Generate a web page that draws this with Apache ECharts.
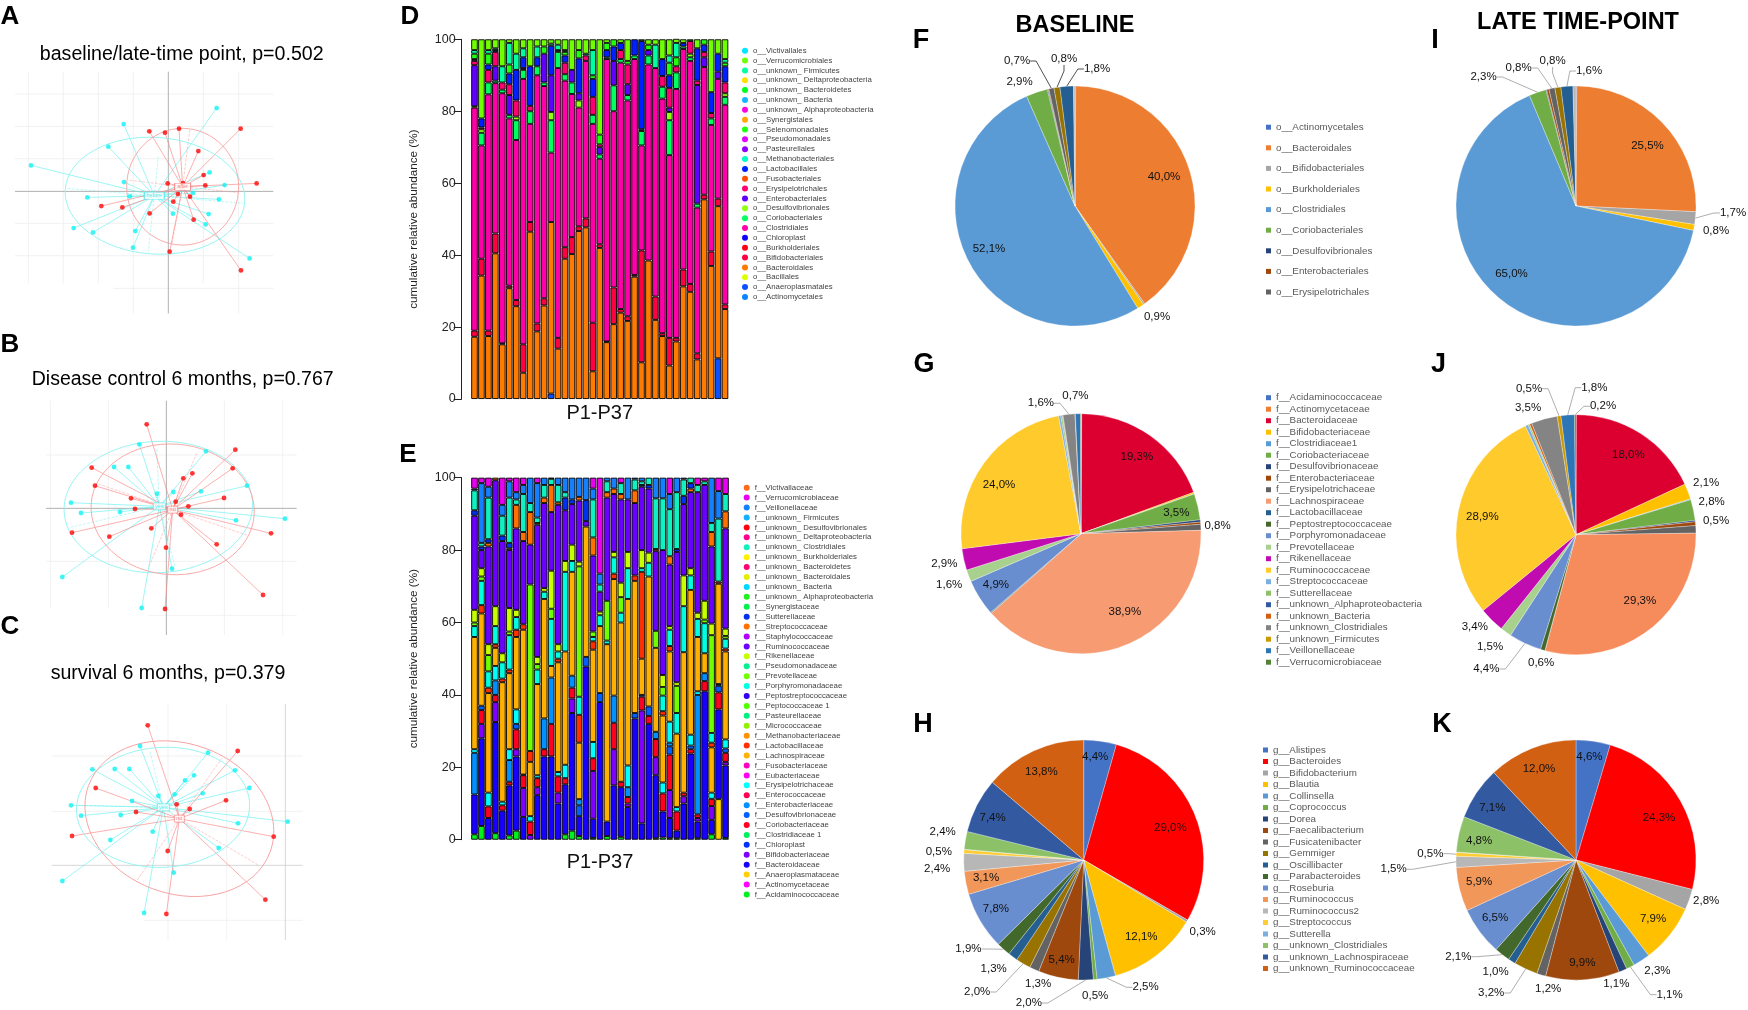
<!DOCTYPE html>
<html><head><meta charset="utf-8">
<script src="https://cdn.jsdelivr.net/npm/echarts@6/dist/echarts.min.js"></script>
<style>html,body{margin:0;padding:0;background:#fff}#c{width:1748px;height:1010px}</style></head>
<body><div id="c"></div>
<script>
/* ---------- ordination panels A, B, C (axis units) ---------- */
const aCyan=[[.145,.25],[-.134,.202],[-.18,.134],[-.412,.078],[-.133,.028],[-.243,-.018],[-.115,-.015],[-.284,-.11],[-.226,-.123],[-.099,-.119],[-.106,-.169],[.014,-.067],[.112,-.099],[.121,-.068],[.152,-.024],[.074,-.005],[.169,.019],[.124,.057],[.244,-.201]];
const aRed=[[-.057,.18],[-.01,.176],[.032,.188],[.217,.188],[.09,.121],[.106,.049],[-.002,.024],[.044,.025],[.111,.018],[.265,.024],[-.201,-.044],[-.138,-.048],[-.056,-.066],[.015,-.031],[.029,-.008],[.065,-.016],[.076,-.085],[.004,-.181],[.218,-.237]];
const aCyanCentre=[-.042,-.013], aRedCentre=[.043,.014];
const aCyanEllipse=[-.04,-.013,.27,.175,4], aRedEllipse=[.043,.014,.168,.175,0];
const aCyanAxes=[[-.305,.009],[.225,-.036],[-.03,.104],[-.06,-.181]], aRedAxes=[[-.12,.034],[.21,-.004],[.065,.189],[.01,-.161]];

const bCyan=[[-.081,.192],[.119,.171],[-.157,.124],[-.114,.124],[.242,.068],[.104,.051],[.021,.049],[-.028,.044],[-.286,.017],[-.256,-.014],[-.139,-.011],[.356,-.031],[.209,-.036],[-.312,-.206],[.017,-.181],[-.074,-.299]];
const bRed=[[-.059,.252],[.207,.176],[.199,.12],[-.224,.122],[.078,.105],[.051,.09],[-.214,.068],[-.106,.03],[.173,.031],[.028,.02],[.066,.006],[-.094,-.002],[.044,-.019],[-.283,-.073],[-.171,-.085],[-.045,-.06],[.314,-.075],[.151,-.108],[-.001,-.118],[.29,-.26],[-.004,-.302]];
const bCyanCentre=[-.021,.006], bRedCentre=[.019,-.004];
const bCyanEllipse=[-.024,.004,.283,.197,-3], bRedEllipse=[.019,-.003,.245,.196,4];
const bCyanAxes=[[-.292,-.058],[.026,-.175],[-.029,.18]], bRedAxes=[[.091,.165],[-.054,-.18],[.246,-.082],[-.209,.075]];

const cCyan=[[-.084,.196],[.12,.176],[-.227,.126],[-.16,.127],[-.116,.127],[.078,.108],[.051,.093],[.201,.123],[.244,.07],[.02,.051],[.104,.054],[-.029,.046],[-.108,.031],[-.291,.018],[-.261,-.013],[-.142,-.011],[.359,-.031],[.21,-.036],[-.046,-.061],[-.173,-.086],[.152,-.11],[.017,-.184],[-.317,-.209],[-.072,-.305]];
const cRed=[[-.061,.258],[.209,.181],[-.217,.07],[.174,.033],[.026,.021],[.065,.007],[-.096,-.002],[-.288,-.074],[.317,-.076],[-.001,-.119],[.292,-.265],[-.005,-.308]];
const cCyanCentre=[-.014,.012], cRedCentre=[.034,-.022];
const cCyanEllipse=[-.015,.012,.26,.18,-3], cRedEllipse=[.034,-.022,.29,.225,20];
const cCyanAxes=[[-.269,.018],[-.054,.179]], cRedAxes=[[.161,.159],[-.092,-.206],[.271,-.161]];

/* ---------- stacked bars D ---------- */
const patients=['P1','P2','P3','P4','P5','P6','P7','P8','P9','P10','P11','P12','P13','P14','P15','P16','P17','P18','P19','P20','P21','P22','P23','P24','P25','P26','P27','P28','P29','P30','P31','P32','P33','P34','P35','P36','P37'];
const dAnaero=[0,0,0,0,0,0,0,0,0,0,0,1.5,0,0,0,0,0,0,0,0,0,0,0,0,0,0,0,0,0,0,0,0,0,0,0,11.3,0];
const dBact=[17.3,34.3,17.5,40.5,15.2,30.8,25.8,7.3,46.5,18.8,26,47.7,14,39,40.3,46.7,47.7,7.7,42,15.8,20.8,24,21.7,34,10.2,38.5,22,17.5,9.3,16,31.3,29.8,11,55.5,37,42.3,25];
const dBif=[1.7,4.7,1.5,5.5,.3,.7,1.7,7.9,2.7,2.2,2,0,3,3.2,4.7,1.3,2.5,13.5,1,.2,10.2,1,1.3,.5,31.1,0,6.5,.8,7.7,1,4.7,2.2,1.7,1.3,4,2.1,1.3];
const dClost=[62,31.5,65.7,41.8,69.5,46.5,44.5,73.8,27.3,69,59,19.3,75,46.3,39.8,33,43.8,55.3,23.8,78.5,49,68.5,60,60,29.2,54.5,63.5,65.2,50.8,69.2,61.3,62,40.5,35.5,35.2,33.3,55.5];
const dCorio=[0,3.5,3.3,.7,1,1,5.5,2.5,3.5,2.5,1,9,4.5,1.8,3.2,0,0,2.5,1.2,.5,7.2,1,1.5,1,4,2.5,0,3.3,9.7,4.6,.7,1,1.1,0,1.8,0,2.2];
const dDesulfo=[.4,1,0,0,0,0,1,0,0,0,0,2.3,0,0,0,2,0,0,0,0,0,0,0,0,0,0,0,0,2.3,0,0,1,0,0,0,0,1];
const dEntero=[11.4,0,0,4,0,5.5,0,0,0,0,8,10.2,0,0,3.5,2,0,0,2,0,6.8,0,3,0,0,1.5,0,0,1.2,0,0,0,33,2.7,0,2,0];
const dErys=[1.2,.5,3.5,4,2,3,4.5,.5,1.5,0,0,0,.5,3.2,0,0,1.5,5,.8,0,0,2.5,5.5,0,.5,0,0,3,5.5,1.7,0,3.5,1.2,1.5,1.5,0,3];
const dLacto=[.5,2.5,1.5,.5,0,3,8.5,3,11,2.5,0,8.2,0,2,0,9.7,0,5,0,2,4,2,0,4.5,24.5,0,0,4.7,3.5,0,1,0,9,2,5.8,5,4.5];
const dSel=[1.5,0,3,0,0,2.5,0,0,0,0,2,0,0,1,0,2.3,0,1,2.7,2,2,0,1,0,0,1.5,0,0,3.5,2.5,0,0,0,1.5,0,0,1];
const dFirm=[1,0,1,.5,4.5,6,4.5,2.5,0,3,0,.6,1.5,.5,0,0,.5,7,0,0,0,0,0,0,0,0,6.5,0,2,4,0,0,0,0,0,0,1];
const dVerr=[3,22,3,2.5,7.5,1,4,2.5,7.5,2,2,1.2,1.5,3,8.5,3,4,3,26.5,1,0,1,6,0,.5,1.5,1.5,5.5,4.5,2,1,.5,2.5,0,14.7,4,5.5];
/* bottom-of-stack first; entries without a listed array have no visible share */
const dTaxa=['o__Actinomycetales','o__Anaeroplasmatales','o__Bacillales','o__Bacteroidales','o__Bifidobacteriales','o__Burkholderiales','o__Chloroplast','o__Clostridiales','o__Coriobacteriales','o__Desulfovibrionales','o__Enterobacteriales','o__Erysipelotrichales','o__Fusobacteriales','o__Lactobacillales','o__Methanobacteriales','o__Pasteurellales','o__Pseudomonadales','o__Selenomonadales','o__Synergistales','o__unknown_ Alphaproteobacteria','o__unknown_ Bacteria','o__unknown_ Bacteroidetes','o__unknown_ Deltaproteobacteria','o__unknown_ Firmicutes','o__Verrucomicrobiales','o__Victivallales'];
const dColors=['#0a84ff','#0a50ff','#ddff00','#ff7a00','#ff0040','#ff0010','#1000ff','#ff00a8','#00ff60','#90ff10','#6000ff','#ff0070','#ff5000','#0020ff','#00ffc8','#9000ff','#e000ff','#20ff10','#ffa800','#ff00e0','#10b8ff','#00ff20','#ffe000','#00ffa0','#70ff00','#00e8ff'];
const dSeriesData={'o__Anaeroplasmatales':dAnaero,'o__Bacteroidales':dBact,'o__Bifidobacteriales':dBif,'o__Clostridiales':dClost,'o__Coriobacteriales':dCorio,'o__Desulfovibrionales':dDesulfo,'o__Enterobacteriales':dEntero,'o__Erysipelotrichales':dErys,'o__Lactobacillales':dLacto,'o__Selenomonadales':dSel,'o__unknown_ Firmicutes':dFirm,'o__Verrucomicrobiales':dVerr};

/* ---------- stacked bars E ---------- */
const eAcid=[1.5,3.8,0,1.8,0,1.2,2.5,0,0,0,0,0,0,1.5,2.5,1,0,.5,0,1,0,.8,0,0,0,0,.4,.6,.4,.4,0,0,.4,0,1.5,0,.5];
const eAnaero=[0,0,0,0,0,0,0,0,0,0,0,0,0,0,0,0,0,0,0,0,0,0,0,0,0,0,0,0,0,0,0,0,0,0,0,11.2,0];
const eBact=[11,24.2,6,30.7,8,13.8,20.5,6.3,0,12.3,23,23,10,13.8,32.5,5.5,47.8,5.3,38,4,15,13.7,9,33.5,4.5,32,17.4,7.2,5.6,2.1,10,23.8,4.6,41,4,24.8,20];
const eBif=[0,4,0,5.5,0,0,2,8,1.3,2.2,0,0,3,0,4,0,0,13.2,0,0,10,0,1,0,31.2,0,5,0,7.7,0,2,0,1,0,3.8,0,1];
const eCorio=[0,3.8,3.2,2,1.5,1,5.5,3.5,3.7,2.5,2,9,4.5,1.7,3,0,0,3.5,0,0,7.3,1.5,1.8,0,3.8,2.2,5,5,9.8,5.3,1,1.2,1,2.8,2,4.7,2.5];
const eDesulf=[0,1.2,0,0,0,0,1.5,0,0,0,0,0,0,0,0,3,2.7,0,2.5,0,0,0,0,1.5,.5,2.6,0,0,2.3,0,0,1,0,0,0,1.8,1.2];
const eEnt=[11.5,0,0,4,0,6,0,0,0,0,8.5,12.8,0,0,3.3,1.7,0,0,0,0,7.5,0,2.7,0,0,0,2,0,1,0,0,0,33,2.2,0,.5,0];
const eErys=[1,0,3.8,4,1,3,4,.2,1.5,.8,0,0,1.2,3.7,0,0,0,4.5,0,0,0,0,6,0,0,0,0,3,5.8,1.2,0,3,1,0,1.7,0,2.5];
const eLach=[31,25.5,27.5,5,33,21,20,40,15,25.2,33,3.2,30.3,31.3,28.7,15.6,36,25.5,18.5,49,32.2,44,46,36.5,10,35.9,23.2,18.5,19.4,20.3,38.8,40,15,5.5,12.5,27.7,24.3];
const eLacto=[0,2.3,1.5,1,1,1,2,1.5,3,0,0,0,1,0,0,7.7,0,2.3,0,0,1.5,0,0,1.5,24,0,0,1.2,1.5,0,0,0,0,0,1.3,.6,.8];
const ePorph=[3,6.7,4.5,5,4.5,9.5,3.5,0,0,4,2,13,2,22,3,5,0,1.2,3,1,4.5,2.7,8.5,0,1,3.8,0,4.3,4.5,5.7,12.7,4,5,8.3,2.7,0,2.7];
const ePrev=[1,1.2,4.5,0,0,1,0,0,46,1.5,0,2.8,0,0,0,36,0,1.5,0,11,0,4.3,0,0,0,0,4.7,2.4,0,7.5,0,0,0,1,27,0,.8];
const eRiken=[3.5,2.3,3,5.5,2.5,6.5,2,0,0,2,1,10.5,2,3,4.5,1.3,0,0,1,0,1.5,4,4.5,0,5,2.8,0,3.3,1,1,8.5,2,1.7,5.2,3.2,0,2];
const eRumin=[26,5,27,34.8,31,16,22.5,23,11,36.5,23.5,16.2,38.5,14,11.2,16.9,1.5,21,5.5,28.5,16,23,14.5,20,17.5,17.7,22,34.5,17,36,19.7,21,33.3,32,21.3,0,27.7];
const eStrep=[0,0,1,.7,0,.5,6.5,2.5,9,.5,1.5,7.5,.7,0,0,1,0,5,0,1.5,1.5,1.5,0,3.5,0,0,.6,0,2.3,0,0,1,0,0,4,0,4.7];
const eSutter=[1.5,1,1,0,1.5,1.5,0,0,0,0,0,0,0,3.5,1.3,0,5.8,0,0,0,0,0,0,0,.5,1,0,0,0,.8,2.3,1.5,0,0,0,0,0];
const eUnkClost=[5.5,1,11.5,0,5.5,12.5,1.5,10.5,2.5,1.5,3.5,1.7,4.8,1.5,0,0,0,10.5,2,3,0,3,0,3,1,2,14,14.3,13,15.7,4.5,1.5,2,1,2.5,17.4,4.8];
const eVeill=[.5,16.5,3,0,3,4.5,2,2.5,7,9.5,2,.3,2,4,6,5.3,6.2,3,3,1,3,0,6,.5,1,0,5.7,5.7,4.2,4,.5,0,0,0,12.5,7.6,0];
const eVerr=[3,1.5,2.5,0,7.5,1,4,2,0,1.5,0,0,0,0,0,0,0,3,26.5,0,0,1.5,0,0,0,0,0,0,4.5,0,0,0,2,1,0,3.7,4.5];
const eTaxa=['f__Acidaminococcaceae','f__Actinomycetaceae','f__Anaeroplasmataceae','f__Bacteroidaceae','f__Bifidobacteriaceae','f__Chloroplast','f__Clostridiaceae 1','f__Coriobacteriaceae','f__Desulfovibrionaceae','f__Enterobacteriaceae','f__Enterococcaceae','f__Erysipelotrichaceae','f__Eubacteriaceae','f__Fusobacteriaceae','f__Lachnospiraceae','f__Lactobacillaceae','f__Methanobacteriaceae','f__Micrococcaceae','f__Pasteurellaceae','f__Peptococcaceae 1','f__Peptostreptococcaceae','f__Porphyromonadaceae','f__Prevotellaceae','f__Pseudomonadaceae','f__Rikenellaceae','f__Ruminococcaceae','f__Staphylococcaceae','f__Streptococcaceae','f__Sutterellaceae','f__Synergistaceae','f__unknown_ Alphaproteobacteria','f__unknown_ Bacteria','f__unknown_ Bacteroidales','f__unknown_ Bacteroidetes','f__unknown_ Burkholderiales','f__unknown_ Clostridiales','f__unknown_ Deltaproteobacteria','f__unknown_ Desulfovibrionales','f__unknown_ Firmicutes','f__Veillonellaceae','f__Verrucomicrobiaceae','f__Victivallaceae'];
const eColors=['#00f020','#ff00ff','#ffd000','#1800ff','#8000ff','#0030ff','#00f060','#ff0020','#0060ff','#0090ff','#ff0050','#00ffff','#ff00f0','#ff00c0','#ffb000','#ff3000','#ff9000','#90f000','#00f080','#50ff00','#3000f0','#00ffe0','#70ff00','#00f090','#c8ff00','#6a00ff','#b000ff','#ff7000','#0030f0','#00f050','#20f020','#00d8ff','#e0f000','#ff0070','#fff000','#10f0c0','#ff0090','#ff0010','#10b0ff','#1480ff','#e800f0','#ff6a1a'];
const eSeriesData={'f__Acidaminococcaceae':eAcid,'f__Anaeroplasmataceae':eAnaero,'f__Bacteroidaceae':eBact,'f__Bifidobacteriaceae':eBif,'f__Coriobacteriaceae':eCorio,'f__Desulfovibrionaceae':eDesulf,'f__Enterobacteriaceae':eEnt,'f__Erysipelotrichaceae':eErys,'f__Lachnospiraceae':eLach,'f__Lactobacillaceae':eLacto,'f__Porphyromonadaceae':ePorph,'f__Prevotellaceae':ePrev,'f__Rikenellaceae':eRiken,'f__Ruminococcaceae':eRumin,'f__Streptococcaceae':eStrep,'f__Sutterellaceae':eSutter,'f__unknown_ Clostridiales':eUnkClost,'f__Veillonellaceae':eVeill,'f__Verrucomicrobiaceae':eVerr};

/* ---------- pies F, I (order) ---------- */
const orderNames=['o__Actinomycetales','o__Bacteroidales','o__Bifidobacteriales','o__Burkholderiales','o__Clostridiales','o__Coriobacteriales','o__Desulfovibrionales','o__Enterobacteriales','o__Erysipelotrichales','o__Lactobacillales','o__Verrucomicrobiales','o__others'];
const orderColors=['#4472C4','#ED7D31','#A5A5A5','#FFC000','#5B9BD5','#70AD47','#264478','#9E480E','#636363','#997300','#255E91','#B7B7B7'];
const fValues=[.1,40,.2,.9,52.1,2.9,.1,.1,.7,.8,1.8,.2];
const iValues=[.1,25.5,1.7,.8,65,2.3,.1,.3,.8,.8,1.6,.4];
/* ---------- pies G, J (family) ---------- */
const familyNames=['f__Acidaminococcaceae','f__Actinomycetaceae','f__Bacteroidaceae','f__Bifidobacteriaceae','f__Clostridiaceae1','f__Coriobacteriaceae','f__Desulfovibrionaceae','f__Enterobacteriaceae','f__Erysipelotrichaceae','f__Lachnospiraceae','f__Lactobacillaceae','f__Peptostreptococcaceae','f__Porphyromonadaceae','f__Prevotellaceae','f__Rikenellaceae','f__Ruminococcaceae','f__Streptococcaceae','f__Sutterellaceae','f__unknown_Alphaproteobacteria','f__unknown_Bacteria','f__unknown_Clostridiales','f__unknown_Firmicutes','f__Veillonellaceae','f__Verrucomicrobiaceae'];
const familyColorsG=['#4472C4','#ED7D31','#DC0031','#FFC000','#5B9BD5','#70AD47','#264478','#9E480E','#636363','#F79B72','#255E91','#43682B','#698ED0','#A9D18E','#C00BB0','#FFCA2C','#7CAFDD','#8CC168','#335AA1','#D26012','#848484','#CC9A00','#2E75B6','#548235'];
const familyColorsJ=['#4472C4','#ED7D31','#DC0031','#FFC000','#5B9BD5','#70AD47','#264478','#9E480E','#636363','#F68B5C','#255E91','#43682B','#698ED0','#A9D18E','#C00BB0','#FFCA2C','#7CAFDD','#8CC168','#335AA1','#D26012','#848484','#CC9A00','#2E75B6','#548235'];
const gValues=[.05,.05,19.3,.2,.05,3.5,.3,.3,.8,38.9,.05,.1,4.9,1.6,2.9,24,.3,.2,.05,.05,1.6,.05,.7,.05];
const jValues=[.02,.02,18,2.1,.1,2.8,.2,.5,1,29.3,.02,.6,4.4,1.5,3.4,28.9,.4,.2,.02,.3,3.5,.5,1.8,.2];
/* ---------- pies H, K (genus) ---------- */
const genusNames=['g__Alistipes','g__Bacteroides','g__Bifidobacterium','g__Blautia','g__Collinsella','g__Coprococcus','g__Dorea','g__Faecalibacterium','g__Fusicatenibacter','g__Gemmiger','g__Oscillibacter','g__Parabacteroides','g__Roseburia','g__Ruminococcus','g__Ruminococcus2','g__Streptococcus','g__Sutterella','g__unknown_Clostridiales','g__unknown_Lachnospiraceae','g__unknown_Ruminococcaceae'];
const genusColors=['#4472C4','#FF0000','#A5A5A5','#FFC000','#5B9BD5','#70AD47','#264478','#9E480E','#636363','#997300','#255E91','#43682B','#698ED0','#F1975A','#B7B7B7','#FFCD33','#7CAFDD','#8CC168','#335AA1','#D26012'];
const hValues=[4.4,29,.3,12.1,2.5,.5,2,5.4,1.3,2,1.3,1.9,7.8,3.1,2.4,.5,.05,2.4,7.4,13.8];
const kValues=[4.6,24.3,2.8,7.9,2.3,1.1,1.1,9.9,1.2,3.2,1,2.1,6.5,5.9,1.5,.5,.05,4.8,7.1,12];

/* ---------- layout tables (pixels, kept apart from the values) ---------- */
const fLabelAt={1:[1164,177],3:[1157,317],4:[989,249],5:[1019.5,82],8:[1017,61],9:[1064,59],10:[1097,69]};
const iLabelAt={1:[1647.5,146],2:[1733,213],3:[1716,231],4:[1511.5,274],5:[1483.5,77],8:[1518.6,68],9:[1552.6,61],10:[1589,71]};
const gLabelAt={2:[1136.8,457],5:[1176.3,512.7],8:[1217.5,526],9:[1124.8,611.7],12:[995.9,585.3],13:[949.2,585.3],14:[944.3,564.3],15:[999,484.7],20:[1040.9,403.3],22:[1075.4,396]};
const jLabelAt={2:[1628.3,455.3],3:[1706.2,482.7],5:[1711.7,502.3],7:[1716,521],9:[1639.9,600.7],11:[1541.1,662.7],12:[1486.3,669],13:[1490,646.7],14:[1474.8,626.7],15:[1482.4,516.7],20:[1528,408],21:[1529,388.7],22:[1594.3,387.7],23:[1603,406.3]};
const hLabelAt={0:[1095.2,757.3],1:[1170.3,828],2:[1202.7,931.7],3:[1141.2,937],4:[1145.6,987.3],5:[1095.2,996],6:[1028.8,1003],7:[1061.7,960.3],8:[1038.1,984.3],9:[977.2,992],10:[993.7,969.3],11:[968.4,949],12:[995.9,909],13:[986,878],14:[937.2,869.3],15:[938.8,851.7],17:[942.7,832.3],18:[992.6,818],19:[1041.4,772]};
const kLabelAt={0:[1589.4,757.3],1:[1659,817.7],2:[1706.2,900.7],3:[1653,919.3],4:[1657.4,971],5:[1669.5,994.7],6:[1616.3,984.3],7:[1582.3,963.3],8:[1548.2,988.7],9:[1491.2,993],10:[1495.6,972.3],11:[1458.3,956.7],12:[1495,918.3],13:[1479.1,882.3],14:[1393.6,869.3],15:[1430.3,853.7],17:[1479.1,841.3],18:[1492.3,807.7],19:[1539,769.3]};

const sansFont='"Liberation Sans",Arial,sans-serif';
const CYAN='#12f2f2', RED='#ff0505', CYANLINE='rgba(90,240,240,.7)', REDLINE='rgba(250,130,130,.75)';

/* ---------- helpers ---------- */
function spokes(c,pts){const d=[];pts.forEach(p=>{d.push(c,p,['-','-']);});return d;}
function segs(vs,hs){const d=[];vs.forEach(v=>d.push([v[0],v[1]],[v[0],v[2]],['-','-']));hs.forEach(h=>d.push([h[1],h[0]],[h[2],h[0]],['-','-']));return d;}
function lineSeries(i,data,color,width,type,z){return{type:'line',xAxisIndex:i,yAxisIndex:i,data:data,symbol:'none',silent:true,connectNulls:false,lineStyle:{color:color,width:width,type:type||'solid'},z:z||2,clip:false,legendHoverLink:false};}
function ellipseSeries(i,e,color){return{type:'custom',xAxisIndex:i,yAxisIndex:i,data:[e],silent:true,z:3,clip:false,renderItem:function(p,api){const c=api.coord([api.value(0),api.value(1)]);const s=api.size([api.value(2),api.value(3)]);return{type:'ellipse',x:c[0],y:c[1],rotation:-api.value(4)*Math.PI/180,shape:{cx:0,cy:0,rx:s[0],ry:s[1]},style:{fill:'none',stroke:color,lineWidth:.9}};},encode:{x:0,y:1}};}
function pointSeries(i,pts,color){return{type:'scatter',xAxisIndex:i,yAxisIndex:i,data:pts,symbolSize:4.8,itemStyle:{color:color},silent:true,z:5,clip:false};}
function centreSeries(i,c,text,color,w){return{type:'scatter',xAxisIndex:i,yAxisIndex:i,data:[c],symbol:'rect',symbolSize:[w,7],silent:true,z:6,clip:false,itemStyle:{color:'#fff',borderColor:color,borderWidth:.7},label:{show:true,position:'inside',formatter:text,fontSize:5.5,color:color,fontFamily:sansFont}};}
function ordination(i,o){return[
  lineSeries(i,segs(o.gv,o.gh),'#eeeeee',.8,'solid',1),
  lineSeries(i,segs(o.dv,o.dh),o.dc,.9,'solid',1),
  ellipseSeries(i,o.ce,'#8ff3f3'),ellipseSeries(i,o.re,'#f7a3a3'),
  lineSeries(i,spokes(o.cc,o.ca),'rgba(120,240,240,.7)',.7,'dashed',2),
  lineSeries(i,spokes(o.rc,o.ra),'rgba(250,150,150,.7)',.7,'dashed',2),
  lineSeries(i,spokes(o.cc,o.cp),CYANLINE,.85),
  lineSeries(i,spokes(o.rc,o.rp),REDLINE,.85),
  pointSeries(i,o.cp,CYAN),pointSeries(i,o.rp,RED),
  centreSeries(i,o.cc,o.cl,'#3fe8e8',o.cw),centreSeries(i,o.rc,o.rl,'#f26d6d',o.rw)];}
function barsFor(i,taxa,colors,values,stack){return taxa.map((n,k)=>({type:'bar',name:n,xAxisIndex:i,yAxisIndex:i,stack:stack,barCategoryGap:'6%',silent:true,
  data:(values[n]||[]).map(v=>v||null),itemStyle:{color:colors[k],borderColor:'#000',borderWidth:.9}}));}
function pieFor(cx,cy,names,colors,values,labelAt,lines,lineColor){return{type:'pie',center:[cx,cy],radius:120,startAngle:90,clockwise:true,silent:true,avoidLabelOverlap:false,percentPrecision:1,
  itemStyle:{borderColor:'#fff',borderWidth:.3},
  data:values.map((v,k)=>({name:names[k],value:v,itemStyle:{color:colors[k]},
    label:{show:!!labelAt[k]},labelLine:{show:lines.indexOf(k)>=0,length:8,length2:6,lineStyle:{color:lineColor,width:.8}}})),
  label:{position:'outside',fontSize:11.5,color:'#111',fontFamily:sansFont,formatter:p=>p.value.toFixed(1).replace('.',',')+'%'},
  labelLayout:function(p){const a=labelAt[p.dataIndex];return a?{x:a[0],y:a[1],align:'center',verticalAlign:'middle'}:{};}};}
function legendFor(names,colors,left,top,font,lh,gap,icon,size,textColor){return{show:true,orient:'vertical',left:left,top:top,padding:0,selectedMode:false,itemGap:gap,itemWidth:size,itemHeight:size,icon:icon,
  textStyle:{fontSize:font,lineHeight:lh,color:textColor,fontFamily:sansFont},
  data:names.map((n,k)=>({name:n,icon:icon,itemStyle:{color:colors[k],borderWidth:0}}))};}
function labelTitle(text,x,y,size,weight){return{text:text,left:x,top:y+1.5,textAlign:'center',textVerticalAlign:'middle',padding:0,textStyle:{fontSize:size,fontWeight:weight,color:'#000',fontFamily:sansFont}};}

/* ---------- axes of ordination panels ---------- */
const ordGrids=[
 {left:15,top:71.7,width:258.3,height:241.7},{left:46,top:400.7,width:250.7,height:234.3},{left:51.7,top:704,width:251,height:236}];
const ordX=[[-.46,.315],[-.361,.391],[-.349,.404]], ordY=[[-.366,.359],[-.38,.323],[-.386,.322]];

const panelA={gv:[[-.42,.359,-.276],[-.315,.359,-.276],[-.21,.359,-.276],[-.105,.359,-.366],[.105,.359,-.276],[.211,.359,-.366]],gh:[[.292,-.46,.315],[.195,-.46,.315],[.098,-.46,.315],[-.096,-.46,.315],[-.193,-.46,.315],[-.291,-.165,.315]],dv:[[0,.359,-.366]],dh:[[0,-.46,.315]],dc:'#a8a8a8',ce:aCyanEllipse,re:aRedEllipse,cc:aCyanCentre,rc:aRedCentre,ca:aCyanAxes,ra:aRedAxes,cp:aCyan,rp:aRed,cl:'before',rl:'after',cw:20,rw:16};
const panelB={gv:[[-.348,.323,-.3],[-.174,.323,-.3],[.174,.323,-.38],[.349,.323,-.38]],gh:[[.16,-.361,.391],[-.159,-.361,.391],[-.321,-.054,.391]],dv:[[0,.323,-.38]],dh:[[0,-.361,.391]],dc:'#a8a8a8',ce:bCyanEllipse,re:bRedEllipse,cc:bCyanCentre,rc:bRedCentre,ca:bCyanAxes,ra:bRedAxes,cp:bCyan,rp:bRed,cl:'yes',rl:'no',cw:12,rw:10};
const panelC={gv:[[0,.322,-.386],[.176,.322,-.386]],gh:[[.166,-.349,.404],[0,-.349,.404],[-.327,-.074,.404]],dv:[[.352,.322,-.386]],dh:[[-.162,-.349,.404]],dc:'#d2d2d2',ce:cCyanEllipse,re:cRedEllipse,cc:cCyanCentre,rc:cRedCentre,ca:cCyanAxes,ra:cRedAxes,cp:cCyan,rp:cRed,cl:'yes',rl:'no',cw:12,rw:10};

const barAxisY=i=>({gridIndex:i,type:'value',min:0,max:100,interval:20,position:'left',offset:9.3,
  axisLine:{show:true,lineStyle:{color:'#222',width:1}},axisTick:{show:true,length:8,lineStyle:{color:'#222',width:1}},
  axisLabel:{fontSize:12.5,color:'#222',margin:6,fontFamily:sansFont},splitLine:{show:false},
  name:'cumulative relative abundance (%)',nameLocation:'middle',nameGap:42,nameTextStyle:{fontSize:11.7,color:'#222',fontFamily:sansFont}});
const barAxisX=(i,gap)=>({gridIndex:i,type:'category',data:patients,axisLine:{show:false},axisTick:{show:false},axisLabel:{show:false},splitLine:{show:false},
  name:'P1-P37',nameLocation:'middle',nameGap:gap,nameTextStyle:{fontSize:20,color:'#111',fontFamily:sansFont}});

const option={
 animation:false,backgroundColor:'#fff',
 grid:[...ordGrids,{left:471,top:39.3,width:257.5,height:359.7},{left:471,top:477.7,width:258,height:362}],
 xAxis:[0,1,2].map(i=>({gridIndex:i,type:'value',show:false,min:ordX[i][0],max:ordX[i][1],splitLine:{show:false}})).concat([barAxisX(3,4.5),barAxisX(4,12.5)]),
 yAxis:[0,1,2].map(i=>({gridIndex:i,type:'value',show:false,min:ordY[i][0],max:ordY[i][1],splitLine:{show:false}})).concat([barAxisY(3),barAxisY(4)]),
 title:[
  labelTitle('A',10,15,26,'bold'),labelTitle('B',10,343,26,'bold'),labelTitle('C',10,625,26,'bold'),
  labelTitle('D',410,15,26,'bold'),labelTitle('E',408,453,26,'bold'),
  labelTitle('F',921,39,27,'bold'),labelTitle('G',924,363,27,'bold'),labelTitle('H',923,723,27,'bold'),
  labelTitle('I',1435,39,27,'bold'),labelTitle('J',1438.5,363,27,'bold'),labelTitle('K',1442,723,27,'bold'),
  labelTitle('baseline/late-time point, p=0.502',181.7,52.7,19.6,'normal'),
  labelTitle('Disease control 6 months, p=0.767',182.7,378.3,19.5,'normal'),
  labelTitle('survival 6 months, p=0.379',168,671.7,19.6,'normal'),
  labelTitle('BASELINE',1075,24,23.5,'bold'),labelTitle('LATE TIME-POINT',1578,21,23.5,'bold')],
 legend:[
  legendFor(dTaxa.slice().reverse(),dColors.slice().reverse(),742,46.7,7.8,8,1.85,'circle',6,'#444'),
  legendFor(eTaxa.slice().reverse(),eColors.slice().reverse(),743.7,483.7,7.8,8,1.92,'circle',6,'#444'),
  legendFor(orderNames.slice(0,9),orderColors,1266,122.2,9.8,10,10.6,'rect',5,'#595959'),
  legendFor(familyNames,familyColorsG,1266,392.7,9.8,10,1.5,'rect',5,'#595959'),
  legendFor(genusNames,genusColors,1263,745,9.8,10,1.5,'rect',5,'#595959')],
 series:[
  ...ordination(0,panelA),...ordination(1,panelB),...ordination(2,panelC),
  ...barsFor(3,dTaxa,dColors,dSeriesData,'d'),
  ...barsFor(4,eTaxa,eColors,eSeriesData,'e'),
  pieFor(1075,206,orderNames,orderColors,fValues,fLabelAt,[8,9,10],'#222'),
  pieFor(1576,206,orderNames,orderColors,iValues,iLabelAt,[2,5,8,9,10],'#999'),
  pieFor(1081,533.7,familyNames,familyColorsG,gValues,gLabelAt,[20],'#999'),
  pieFor(1576,534.7,familyNames,familyColorsJ,jValues,jLabelAt,[12,21,22,23],'#999'),
  pieFor(1083.7,860,genusNames,genusColors,hValues,hLabelAt,[4,6,9,11],'#999'),
  pieFor(1576,860,genusNames,genusColors,kValues,kLabelAt,[5,9,11,14,15],'#999')]
};
echarts.init(document.getElementById('c'),null,{renderer:'canvas'}).setOption(option);
</script></body></html>
